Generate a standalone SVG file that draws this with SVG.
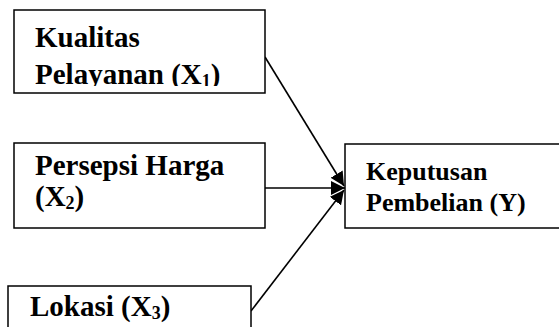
<svg xmlns="http://www.w3.org/2000/svg" width="559" height="327" viewBox="0 0 559 327">
<style>
.box{fill:#fff;stroke:#000;stroke-width:1.5}
.t{font-family:"Liberation Serif","Times New Roman",serif;font-weight:bold;fill:#000}
.l{font-size:29px}
.r{font-size:26px}
.c{stroke:#000;stroke-width:1.6;fill:none;marker-end:url(#ah)}
</style>
<defs>
<marker id="ah" viewBox="0 0 14 14" refX="14" refY="7" markerWidth="14" markerHeight="14" markerUnits="userSpaceOnUse" orient="auto">
<path d="M0,0 L14,7 L0,14 z" fill="#000"/>
</marker>
<clipPath id="c1"><rect x="14" y="10" width="251" height="76"/></clipPath>
</defs>
<rect width="559" height="327" fill="#fff"/>
<g id="connectors">
<line class="c" x1="265" y1="57" x2="344" y2="186"/>
<line class="c" x1="265" y1="188" x2="345" y2="188"/>
<line class="c" x1="251" y1="311" x2="344" y2="190"/>
</g>
<g id="n1">
<rect class="box" x="14" y="10" width="251" height="83"/>
<g clip-path="url(#c1)">
<text class="t l" x="35" y="47">Kualitas</text>
<text class="t l" x="35" y="84">Pelayanan (X<tspan font-size="18" dy="3">1</tspan><tspan dy="-3">)</tspan></text>
</g>
</g>
<g id="n2">
<rect class="box" x="14" y="143" width="251" height="85"/>
<text class="t l" x="35" y="175">Persepsi Harga</text>
<text class="t l" x="35" y="206">(X<tspan font-size="18" dy="3">2</tspan><tspan dy="-3">)</tspan></text>
</g>
<g id="n3">
<rect class="box" x="8" y="286" width="243" height="60"/>
<text class="t l" x="30" y="316">Lokasi (X<tspan font-size="18" dy="3">3</tspan><tspan dy="-3">)</tspan></text>
</g>
<g id="n4">
<rect class="box" x="345" y="144" width="230" height="84"/>
<text class="t r" x="366" y="180">Keputusan</text>
<text class="t r" x="366" y="211">Pembelian (Y)</text>
</g>
</svg>
